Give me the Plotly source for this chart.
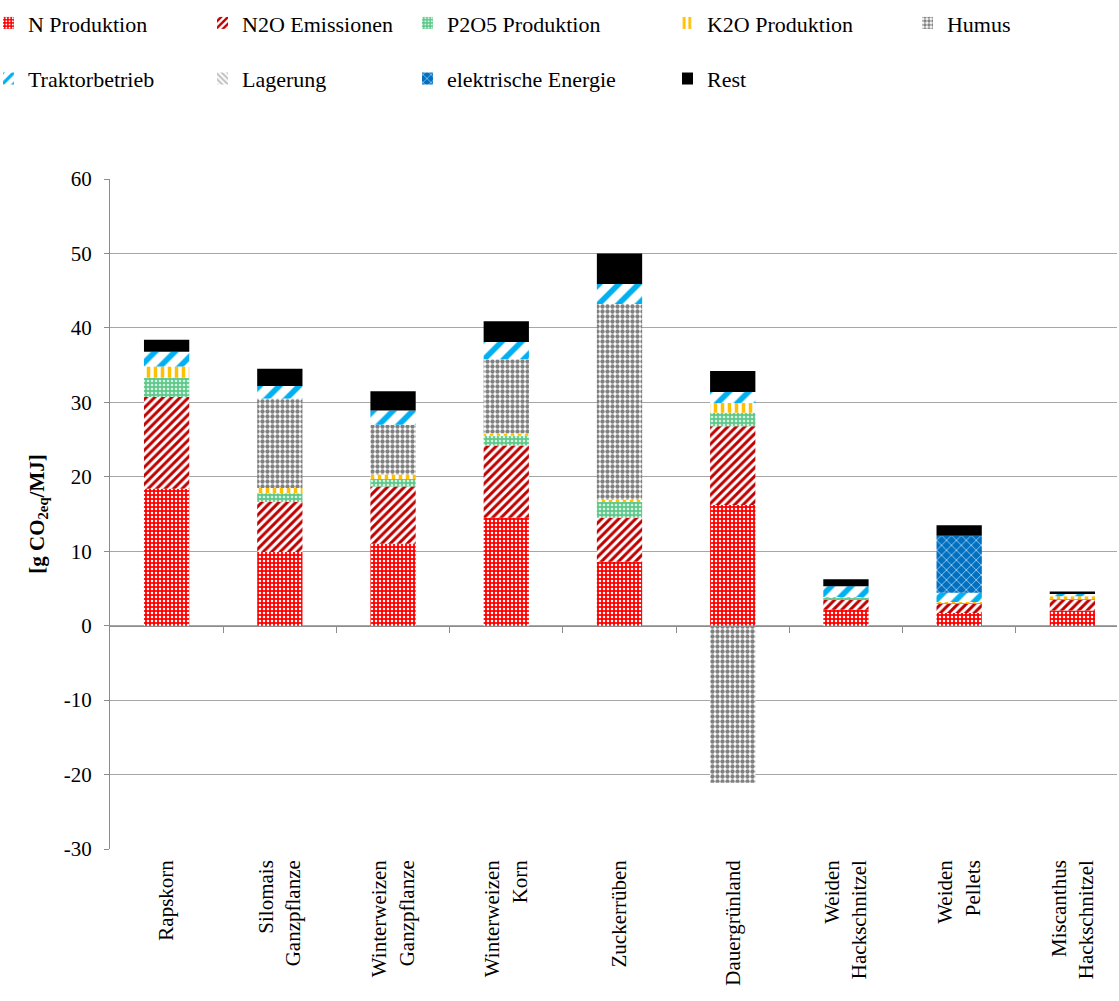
import plotly.graph_objects as go

categories = ["Rapskorn", "Silomais<br>Ganzpflanze", "Winterweizen<br>Ganzpflanze",
              "Winterweizen<br>Korn", "Zuckerrüben", "Dauergrünland",
              "Weiden<br>Hackschnitzel", "Weiden<br>Pellets", "Miscanthus<br>Hackschnitzel"]

n_produktion   = [18.4, 9.9, 11.0, 14.5, 8.6, 16.2, 2.15, 1.7, 2.05]
n2o_emissionen = [12.3, 6.7, 7.7, 9.7, 5.9, 10.6, 1.4, 1.25, 1.45]
p2o5_produktion = [2.6, 1.2, 1.0, 1.3, 2.1, 1.8, 0.2, 0.18, 0.2]
k2o_produktion = [1.5, 0.7, 0.6, 0.3, 0.3, 1.3, 0.1, 0.05, 0.25]
humus          = [0.0, 12.0, 6.7, 10.0, 26.3, -21.1, 0.0, 0.0, 0.0]
traktorbetrieb = [2.0, 1.7, 1.9, 2.3, 2.7, 1.5, 1.45, 1.25, 0.4]
lagerung       = [0.0, 0.0, 0.0, 0.0, 0.0, 0.0, 0.0, 0.0, 0.0]
elektrische_energie = [0.0, 0.0, 0.0, 0.0, 0.0, 0.0, 0.0, 7.65, 0.0]
rest           = [1.6, 2.3, 2.6, 2.8, 4.1, 2.8, 0.95, 1.4, 0.25]

y_ticks = [60, 50, 40, 30, 20, 10, 0, -10, -20, -30]

FONT = "Liberation Serif, serif"

series = [
    ("N Produktion", n_produktion, dict(shape=".", bgcolor="#FF0000", fgcolor="#FFFFFF", size=4, solidity=0.3), "legend"),
    ("N2O Emissionen", n2o_emissionen, dict(shape="/", bgcolor="#FFFFFF", fgcolor="#C00000", size=6, solidity=0.5), "legend2"),
    ("P2O5 Produktion", p2o5_produktion, dict(shape=".", bgcolor="#5CC98A", fgcolor="#D8F2E2", size=4, solidity=0.35), "legend3"),
    ("K2O Produktion", k2o_produktion, dict(shape="|", bgcolor="#FFFFFF", fgcolor="#FFC000", size=7, solidity=0.5), "legend4"),
    ("Humus", humus, dict(shape=".", bgcolor="#FFFFFF", fgcolor="#808080", size=5, solidity=0.6), "legend5"),
    ("Traktorbetrieb", traktorbetrieb, dict(shape="/", bgcolor="#FFFFFF", fgcolor="#00B0F0", size=14, solidity=0.4), "legend"),
    ("Lagerung", lagerung, dict(shape="\\", bgcolor="#FFFFFF", fgcolor="#BFBFBF", size=5, solidity=0.5), "legend2"),
    ("elektrische Energie", elektrische_energie, dict(shape="x", bgcolor="#0070C0", fgcolor="#9CC8EC", size=7, solidity=0.25), "legend3"),
    ("Rest", rest, dict(shape="", bgcolor="#000000", fgcolor="#000000"), "legend4"),
]

fig = go.Figure()
for i, (name, vals, pat, leg) in enumerate(series):
    color = "#000000" if name == "Rest" else pat["bgcolor"]
    marker = dict(color=color, line=dict(width=0))
    if pat["shape"]:
        marker["pattern"] = dict(fillmode="replace", **pat)
    fig.add_trace(go.Bar(
        name=name,
        x=list(range(len(categories))), y=vals, width=0.4,
        marker=marker, legend=leg, legendgroup=name, hoverinfo="skip"
    ))

# invisible trace to host the zero-crossing category axis
fig.add_trace(go.Scatter(x=[0], y=[0], xaxis="x2", mode="markers",
                         marker=dict(opacity=0), showlegend=False, hoverinfo="skip"))

def legend_cfg(x):
    return dict(orientation="v", font=dict(family=FONT, size=22, color="#000000"),
                bgcolor="rgba(0,0,0,0)", yanchor="top", y=1.264, xanchor="left", x=x,
                tracegroupgap=24, itemwidth=30, indentation=-15, traceorder="grouped")

leg_x = [-0.1063, 0.1063, 0.3098, 0.5680, 0.8063]

fig.update_layout(
    width=1119, height=1001,
    margin=dict(l=110, r=2, t=179, b=152),
    paper_bgcolor="#FFFFFF", plot_bgcolor="#FFFFFF",
    barmode="relative",
    font=dict(family=FONT, size=21, color="#000000"),
    legend=legend_cfg(leg_x[0]),
    legend2=legend_cfg(leg_x[1]),
    legend3=legend_cfg(leg_x[2]),
    legend4=legend_cfg(leg_x[3]),
    legend5=legend_cfg(leg_x[4]),
    xaxis=dict(
        range=[-0.5, 8.394], tickmode="array",
        tickvals=list(range(len(categories))), ticktext=categories,
        tickangle=-90, ticks="", showgrid=False, zeroline=False, showline=False,
        tickfont=dict(family=FONT, size=21, color="#000000"), ticklabelstandoff=6,
    ),
    xaxis2=dict(
        overlaying="x", matches="x", anchor="free", position=1/3,
        tickmode="array", tickvals=[i + 0.5 for i in range(len(categories) - 1)],
        ticks="outside", ticklen=6, tickcolor="#8C8C8C", tickwidth=1,
        showticklabels=False, showgrid=False, zeroline=False,
        showline=True, linecolor="#8C8C8C", linewidth=1,
    ),
    yaxis=dict(
        range=[-30, 60], tickmode="array", tickvals=y_ticks,
        ticktext=[str(v) for v in y_ticks],
        showgrid=True, gridcolor="#A6A6A6", gridwidth=1, zeroline=False,
        showline=True, linecolor="#8C8C8C", linewidth=1,
        ticks="outside", ticklen=5, tickcolor="#8C8C8C", ticklabelstandoff=8,
        tickfont=dict(family=FONT, size=21, color="#000000"),
        title=dict(text="<b>[g CO<sub>2eq</sub>/MJ]</b>", standoff=13,
                   font=dict(family=FONT, size=21, color="#000000")),
    ),
)

fig.write_html("out.html", config={"displayModeBar": False},
               post_script="document.body.style.margin='0';")
